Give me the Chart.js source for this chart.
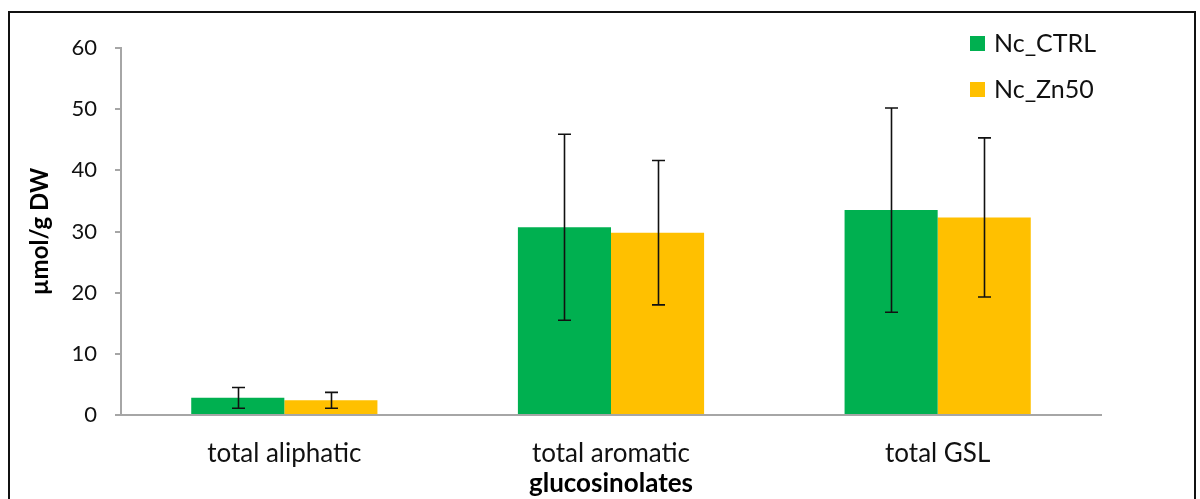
<!DOCTYPE html>
<html>
<head>
<meta charset="utf-8">
<script src="https://cdn.jsdelivr.net/npm/chart.js@4.4.1/dist/chart.umd.min.js"></script>
<style>
  html, body { margin: 0; padding: 0; background: #fff; }
  canvas { display: block; }
</style>
</head>
<body>
<canvas id="gslChart" width="1200" height="499"></canvas>
<script>
// glucosinolate contents, mean and SD per group
const categories = ["total aliphatic", "total aromatic", "total GSL"];
const seriesNames = ["Nc_CTRL", "Nc_Zn50"];
const ctrlValues = [2.8, 30.7, 33.5];
const ctrlErrors = [1.7, 15.2, 16.7];
const zn50Values = [2.4, 29.8, 32.3];
const zn50Errors = [1.3, 11.8, 13.0];
const yTicks = [0, 10, 20, 30, 40, 50, 60];

const FONT = "Lato, 'Open Sans', sans-serif";
const seriesColors = ["#00B050", "#FFC000"];

// whiskers with caps on each bar
const errorBars = {
    id: "errorBars",
    afterDatasetsDraw(chart) {
        const { ctx } = chart;
        const yScale = chart.scales.y;
        ctx.save();
        ctx.strokeStyle = "#111";
        ctx.lineWidth = 1.6;
        chart.data.datasets.forEach((ds, i) => {
            const meta = chart.getDatasetMeta(i);
            meta.data.forEach((bar, j) => {
                const v = ds.data[j];
                const e = ds.errors[j];
                const yTop = yScale.getPixelForValue(v + e);
                const yBot = yScale.getPixelForValue(v - e);
                const x = Math.round(bar.x) + 0.5;
                ctx.beginPath();
                ctx.moveTo(x, yTop);
                ctx.lineTo(x, yBot);
                ctx.moveTo(x - 6.5, yTop);
                ctx.lineTo(x + 6.5, yTop);
                ctx.moveTo(x - 6.5, yBot);
                ctx.lineTo(x + 6.5, yBot);
                ctx.stroke();
            });
        });
        ctx.restore();
    }
};

// legend in the upper right corner, inside the plot
const cornerLegend = {
    id: "cornerLegend",
    afterDraw(chart) {
        const { ctx } = chart;
        ctx.save();
        ctx.font = "25px " + FONT;
        ctx.textBaseline = "middle";
        ctx.textAlign = "left";
        chart.data.datasets.forEach((ds, i) => {
            const cy = 43 + i * 46;
            ctx.fillStyle = ds.backgroundColor;
            ctx.fillRect(970, cy - 7, 15, 15);
            ctx.fillStyle = "#111";
            ctx.fillText(ds.label, 994, cy + 1);
        });
        ctx.restore();
    }
};

// outer frame
const frame = {
    id: "frame",
    afterDraw(chart) {
        const { ctx } = chart;
        ctx.save();
        ctx.strokeStyle = "#111";
        ctx.lineWidth = 2;
        ctx.strokeRect(9, 12, 1186, 600);
        ctx.restore();
    }
};

new Chart(document.getElementById("gslChart").getContext("2d"), {
    type: "bar",
    data: {
        labels: categories,
        datasets: [
            {
                label: seriesNames[0],
                data: ctrlValues,
                errors: ctrlErrors,
                backgroundColor: seriesColors[0],
                borderWidth: 0,
                categoryPercentage: 0.57,
                barPercentage: 1.0
            },
            {
                label: seriesNames[1],
                data: zn50Values,
                errors: zn50Errors,
                backgroundColor: seriesColors[1],
                borderWidth: 0,
                categoryPercentage: 0.57,
                barPercentage: 1.0
            }
        ]
    },
    options: {
        responsive: false,
        animation: false,
        layout: { padding: { left: 0, top: 48, right: 99, bottom: 0 } },
        plugins: {
            legend: { display: false },
            tooltip: { enabled: false }
        },
        scales: {
            x: {
                grid: { display: false, drawTicks: false },
                border: { color: "#a6a6a6", width: 2 },
                ticks: {
                    color: "#111",
                    padding: 23,
                    font: { family: FONT, size: 26 }
                },
                title: {
                    display: true,
                    text: "glucosinolates",
                    color: "#000",
                    font: { family: FONT, size: 26, weight: "bold" },
                    padding: { top: 0, bottom: 0 }
                },
                afterFit(scale) { scale.height = 84; }
            },
            y: {
                min: 0,
                max: 60,
                afterBuildTicks(scale) {
                    scale.ticks = yTicks.map(v => ({ value: v }));
                },
                grid: {
                    drawOnChartArea: false,
                    drawTicks: true,
                    tickLength: 6,
                    color: "#a6a6a6",
                    lineWidth: 2
                },
                border: { color: "#a6a6a6", width: 2 },
                ticks: {
                    color: "#111",
                    padding: 18,
                    font: { family: FONT, size: 22 }
                },
                title: {
                    display: true,
                    text: "µmol/g DW",
                    color: "#000",
                    font: { family: FONT, size: 24, weight: "bold" },
                    padding: { top: 26, bottom: 0 }
                },
                afterFit(scale) { scale.width = 121; }
            }
        }
    },
    plugins: [errorBars, cornerLegend, frame]
});
</script>
</body>
</html>
